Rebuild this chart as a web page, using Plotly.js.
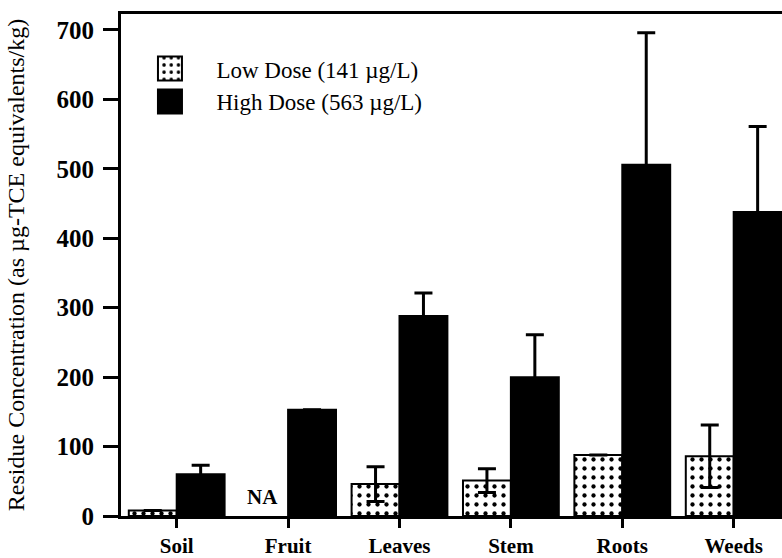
<!DOCTYPE html>
<html>
<head>
<meta charset="utf-8">
<script src="https://cdn.plot.ly/plotly-3.0.1.min.js"></script>
<style>
html, body { margin: 0; padding: 0; overflow: hidden; background: #fff; }
#chart { width: 820px; height: 558px; }
</style>
</head>
<body>
<div id="chart"></div>
<script>
// ---- data ----
const categories = ["Soil", "Fruit", "Leaves", "Stem", "Roots", "Weeds"];
const lowDose = [8, null, 46, 51, 88, 86];
const lowDoseErr = [0, 0, 25, 17, 0, 45];
const highDose = [60, 153, 288, 200, 506, 438];
const highDoseErr = [13, 0, 33, 61, 190, 123];
const seriesNames = ["Low Dose (141 µg/L)", "High Dose (563 µg/L)"];
const yTicks = [0, 100, 200, 300, 400, 500, 600, 700];
const naLabel = "NA";

const serif = "Liberation Serif, Times New Roman, serif";

const traces = [
  {
    type: "bar",
    name: seriesNames[0],
    x: categories,
    y: lowDose,
    error_y: { type: "data", array: lowDoseErr, visible: true, color: "#000", thickness: 3, width: 9 },
    marker: {
      color: "#fff",
      line: { color: "#000", width: 2 },
      pattern: { shape: ".", fgcolor: "#000", bgcolor: "#fff", size: 9, solidity: 0.18 }
    }
  },
  {
    type: "bar",
    name: seriesNames[1],
    x: categories,
    y: highDose,
    error_y: { type: "data", array: highDoseErr, visible: true, color: "#000", thickness: 3, width: 9 },
    marker: { color: "#000", line: { color: "#000", width: 2 } }
  }
];

const layout = {
  width: 820,
  height: 558,
  margin: { l: 121, r: 10, t: 14, b: 42 },
  paper_bgcolor: "#fff",
  plot_bgcolor: "#fff",
  barmode: "group",
  bargap: 0.14,
  bargroupgap: 0,
  font: { family: serif, color: "#000" },
  showlegend: true,
  legend: {
    x: 0.0805, y: 0.934, xanchor: "left", yanchor: "top",
    font: { family: serif, size: 23, color: "#000" },
    bgcolor: "rgba(0,0,0,0)",
    itemwidth: 30,
    traceorder: "normal",
    tracegroupgap: 0
  },
  xaxis: {
    type: "category",
    range: [-0.5, 5.685],
    showline: true, linecolor: "#000", linewidth: 3, mirror: true,
    ticks: "outside", ticklen: 9, tickwidth: 3, tickcolor: "#000",
    tickfont: { family: serif, size: 21, color: "#000", weight: "bold" },
    showgrid: false, zeroline: false
  },
  yaxis: {
    range: [0, 723],
    tickvals: yTicks,
    ticktext: yTicks.map(String),
    showline: true, linecolor: "#000", linewidth: 3,
    ticks: "outside", ticklen: 15, tickwidth: 3, tickcolor: "#000",
    ticklabelstandoff: 4,
    tickfont: { family: serif, size: 25, color: "#000", weight: "bold" },
    showgrid: false, zeroline: false,
    title: {
      text: "Residue Concentration (as µg-TCE equivalents/kg)",
      font: { family: serif, size: 24, color: "#000" },
      standoff: 26
    }
  },
  annotations: [
    {
      x: categories[1], y: 0, xref: "x", yref: "y",
      xshift: -26, yshift: 5, yanchor: "bottom",
      text: naLabel, showarrow: false,
      font: { family: serif, size: 21, color: "#000", weight: "bold" }
    }
  ]
};

Plotly.newPlot("chart", traces, layout, { displayModeBar: false, staticPlot: true }).then(function (gd) {
  // let the legend swatches extend past the legend's clip box
  gd.querySelectorAll(".legend [clip-path]").forEach(function (el) { el.removeAttribute("clip-path"); });
  gd.querySelectorAll(".legend").forEach(function (el) { el.removeAttribute("clip-path"); });
  // enlarge legend swatches (and shift them left) to match the reference's big squares
  gd.querySelectorAll(".legend .legendpoints path").forEach(function (p) {
    p.setAttribute("d", "M-14.5,12H-38.5V-12H-14.5Z");
  });
});
</script>
</body>
</html>
